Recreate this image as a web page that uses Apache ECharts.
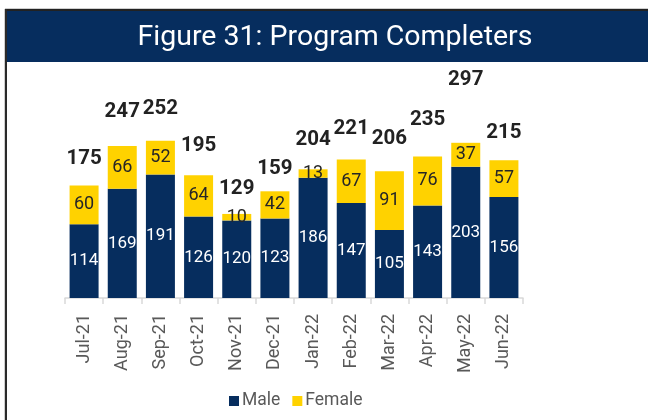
<!DOCTYPE html>
<html>
<head>
<meta charset="utf-8">
<script src="https://cdn.jsdelivr.net/npm/echarts@6/dist/echarts.min.js"></script>
<style>
html,body{margin:0;padding:0;background:#fff;}
#c{width:648px;height:420px;}
</style>
</head>
<body>
<div id="c"></div>
<script>
var categories = ['Jul-21','Aug-21','Sep-21','Oct-21','Nov-21','Dec-21','Jan-22','Feb-22','Mar-22','Apr-22','May-22','Jun-22'];
var male = [114,169,191,126,120,123,186,147,105,143,203,156];
var female = [60,66,52,64,10,42,13,67,91,76,37,57];
var totals = [175,247,252,195,129,159,204,221,206,235,297,215];

var navy = '#062D5E';
var yellow = '#FFD200';
var chart = echarts.init(document.getElementById('c'));
chart.setOption({
  animation: false,
  graphic: [
    {type:'rect', shape:{x:5,y:9,width:643,height:53}, style:{fill:navy}, z:-1},
    {type:'rect', shape:{x:5,y:8,width:643,height:1}, style:{fill:'#cfcfcf'}, z:0},
    {type:'rect', shape:{x:5,y:9,width:643,height:2}, style:{fill:'#222'}, z:0},
    {type:'rect', shape:{x:4,y:9,width:1,height:411}, style:{fill:'#cfcfcf'}, z:0},
    {type:'rect', shape:{x:5,y:9,width:2,height:411}, style:{fill:'#2a2a2a'}, z:0}
  ],
  title: {
    text: 'Figure 31: Program Completers',
    left: 330, top: 18, textAlign: 'center',
    textStyle: {color:'#fff', fontSize:28.5, fontWeight:'normal', fontFamily:'Roboto'}
  },
  legend: {
    data: ['Male','Female'],
    left: 224, top: 387,
    icon: 'rect', itemWidth: 10, itemHeight: 10, itemGap: 12,
    textStyle: {fontSize:17.5, color:'#595959', fontFamily:'Roboto', padding:[0,0,0,-2]}
  },
  grid: {left:65, right:125, top:104, bottom:122, containLabel:false},
  xAxis: {
    type: 'category', data: categories, boundaryGap: true,
    axisLine: {lineStyle:{color:'#d9d9d9', width:1.5}},
    axisTick: {show:true, interval:0, length:6, lineStyle:{color:'#d9d9d9', width:1.5}},
    axisLabel: {rotate:90, interval:0, fontSize:18, color:'#595959', fontFamily:'Roboto', margin:16}
  },
  yAxis: {type:'value', min:0, max:300, show:false, splitLine:{show:false}},
  series: [
    {name:'Male', type:'bar', stack:'a', data: male, barWidth: 29,
     itemStyle:{color:navy},
     label:{show:true, position:'inside', color:'#fff', fontSize:17, fontFamily:'Roboto'}},
    {name:'Female', type:'bar', stack:'a', data: female, barWidth: 29,
     itemStyle:{color:yellow},
     label:{show:true, position:'inside', color:'#262626', fontSize:18, fontFamily:'Roboto'}},
    {name:'Total', type:'scatter', data: totals, symbolSize: 1,
     itemStyle:{color:'rgba(0,0,0,0)', opacity:1},
     label:{show:true, position:'top', distance:15, color:'#222', fontSize:20.5, fontWeight:'bold', fontFamily:'Roboto'}}
  ]
});
</script>
</body>
</html>
